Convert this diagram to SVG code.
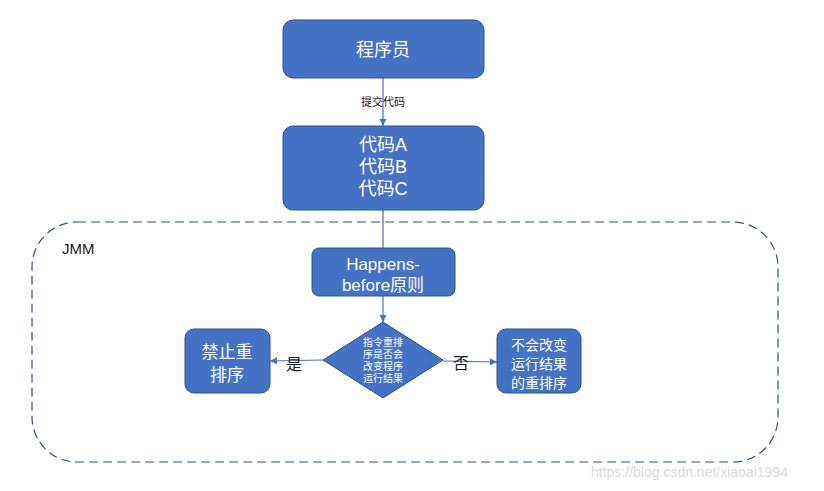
<svg xmlns="http://www.w3.org/2000/svg" width="824" height="491" viewBox="0 0 824 491">
<style>
.node{fill:#4472C4;stroke:#2F528F;stroke-width:1}
.wt{fill:#ffffff;font-family:"Liberation Sans","Noto Sans CJK SC",sans-serif;text-anchor:middle}
.dk{fill:#1a1a1a;font-family:"Liberation Sans","Noto Sans CJK SC",sans-serif;text-anchor:middle}
.conn{stroke:#4472C4;stroke-width:1.2;fill:none}
</style>
<defs>
<marker id="ah" markerWidth="8" markerHeight="8" refX="7" refY="4" orient="auto" markerUnits="userSpaceOnUse">
<path d="M0,0.5 L7,4 L0,7.5 Z" fill="#4472C4"/>
</marker>
</defs>
<rect width="824" height="491" fill="#ffffff"/>
<g id="jmm">
<rect x="32" y="222" width="746" height="240" rx="45" ry="45" fill="none" stroke="#2F528F" stroke-width="1.2" stroke-dasharray="9,5"/>
<text x="62" y="254" font-size="15" class="dk" style="text-anchor:start">JMM</text>
</g>
<g id="connectors">
<line class="conn" x1="383" y1="78" x2="383" y2="126" marker-end="url(#ah)"/>
<line class="conn" x1="383" y1="210" x2="383" y2="248"/>
<line class="conn" x1="383" y1="296" x2="383" y2="322" marker-end="url(#ah)"/>
<line class="conn" x1="443" y1="361" x2="497" y2="362" marker-end="url(#ah)"/>
<line class="conn" x1="323" y1="360" x2="270" y2="361" marker-end="url(#ah)"/>
<text x="383" y="106" font-size="11" class="dk">提交代码</text>
<text x="461" y="369" font-size="16" class="dk">否</text>
<text x="294" y="370" font-size="16" class="dk">是</text>
</g>
<g id="programmer">
<rect class="node" x="283" y="20" width="201" height="58" rx="10"/>
<text x="383" y="56" font-size="18" class="wt">程序员</text>
</g>
<g id="code">
<rect class="node" x="283" y="126" width="201" height="84" rx="10"/>
<text x="383" y="151" font-size="18" class="wt">代码A</text>
<text x="383" y="173" font-size="18" class="wt">代码B</text>
<text x="383" y="195" font-size="18" class="wt">代码C</text>
</g>
<g id="hb">
<rect class="node" x="312" y="248" width="143" height="48" rx="7"/>
<text x="383" y="270" font-size="17" class="wt">Happens-</text>
<text x="383" y="291" font-size="17" class="wt">before原则</text>
</g>
<g id="decision">
<polygon class="node" points="383,322 443,360 383,398 323,360"/>
<text x="383" y="346" font-size="10" class="wt">指令重排</text>
<text x="383" y="358" font-size="10" class="wt">序是否会</text>
<text x="383" y="370" font-size="10" class="wt">改变程序</text>
<text x="383" y="382" font-size="10" class="wt">运行结果</text>
</g>
<g id="forbid">
<rect class="node" x="185" y="329" width="85" height="64" rx="9"/>
<text x="227" y="358" font-size="17" class="wt">禁止重</text>
<text x="227" y="381" font-size="17" class="wt">排序</text>
</g>
<g id="allow">
<rect class="node" x="497" y="329" width="84" height="64" rx="9"/>
<text x="539" y="350" font-size="14" class="wt">不会改变</text>
<text x="539" y="369" font-size="14" class="wt">运行结果</text>
<text x="539" y="388" font-size="14" class="wt">的重排序</text>
</g>
<text x="591" y="477" font-size="14" fill="#dcdcdc" font-family="Liberation Sans,sans-serif">https://blog.csdn.net/xiaoai1994</text>
</svg>
